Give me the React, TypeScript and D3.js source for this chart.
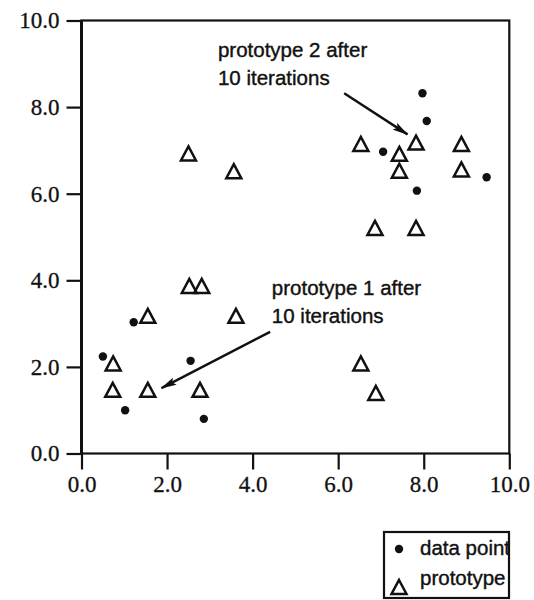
import { useEffect, useRef } from "react";
import * as d3 from "d3";

// data points (filled dots)
const dataX = [0.5, 1.22, 1.02, 2.55, 2.86, 7.97, 8.07, 7.05, 7.84, 9.47];
const dataY = [2.24, 3.03, 1.0, 2.14, 0.8, 8.32, 7.68, 6.97, 6.07, 6.38];

// prototypes (open triangles)
const protoX = [1.55, 0.74, 0.73, 1.55, 2.52, 2.81, 3.61, 2.77, 2.5, 3.56, 6.53, 7.43, 7.43, 7.82, 8.88, 8.88, 6.86, 7.82, 6.53, 6.88];
const protoY = [3.18, 2.08, 1.47, 1.47, 3.87, 3.87, 3.18, 1.47, 6.93, 6.52, 7.15, 6.92, 6.53, 7.18, 7.15, 6.56, 5.21, 5.21, 2.08, 1.4];

const tickValues = [0, 2, 4, 6, 8, 10];

// annotations: text lines, text anchor and arrow (data units)
const noteLines = [
  ["prototype 2 after", "10 iterations"],
  ["prototype 1 after", "10 iterations"],
];
const noteAt = [
  [3.19, 9.16],
  [4.45, 3.66],
];
const arrowFrom = [
  [6.14, 8.32],
  [4.41, 2.81],
];
const arrowTo = [
  [7.62, 7.37],
  [1.87, 1.51],
];

const legendLabels = ["data point", "prototype"];

const W = 534;
const H = 600;

const triangle = "M0,-7L7.5,7L-7.5,7Z";

export default function App() {
  const svgRef = useRef<SVGSVGElement>(null);

  useEffect(() => {
    const margin = { top: 20.5, right: 24.7, bottom: 146.5, left: 81.5 };
    const width = W - margin.left - margin.right;
    const height = H - margin.top - margin.bottom;

    d3.select(svgRef.current).selectAll("*").remove();
    const root = d3.select(svgRef.current);

    root
      .append("defs")
      .append("marker")
      .attr("id", "head")
      .attr("viewBox", "0 0 16 8")
      .attr("refX", 15)
      .attr("refY", 4)
      .attr("markerUnits", "userSpaceOnUse")
      .attr("markerWidth", 16)
      .attr("markerHeight", 8)
      .attr("orient", "auto")
      .append("path")
      .attr("d", "M0,0L16,4L0,8L3,4Z")
      .attr("fill", "#111");

    const svg = root.append("g").attr("transform", `translate(${margin.left},${margin.top})`);

    const x = d3.scaleLinear().domain([0, 10]).range([0, width]);
    const y = d3.scaleLinear().domain([0, 10]).range([height, 0]);

    const serif = "'Liberation Serif', 'Times New Roman', serif";
    const sans = "'Liberation Sans', Arial, sans-serif";

    // Y axis
    const yAxis = svg
      .append("g")
      .call(d3.axisLeft(y).tickValues(tickValues).tickSize(15).tickPadding(7).tickFormat(d3.format(".1f")));
    yAxis.select(".domain").remove();
    yAxis.selectAll("line").attr("stroke", "#111").attr("stroke-width", 2.2);
    yAxis
      .selectAll("text")
      .attr("fill", "#111")
      .attr("stroke", "#111")
      .attr("stroke-width", 0.3)
      .attr("font-family", serif)
      .attr("font-size", 23);

    // X axis
    const xAxis = svg
      .append("g")
      .attr("transform", `translate(0,${height})`)
      .call(d3.axisBottom(x).tickValues(tickValues).tickSize(16).tickPadding(6).tickFormat(d3.format(".1f")));
    xAxis.select(".domain").remove();
    xAxis.selectAll("line").attr("stroke", "#111").attr("stroke-width", 2.2);
    xAxis
      .selectAll("text")
      .attr("fill", "#111")
      .attr("stroke", "#111")
      .attr("stroke-width", 0.3)
      .attr("font-family", serif)
      .attr("font-size", 23);

    // frame
    svg
      .append("rect")
      .attr("x", 0)
      .attr("y", 0)
      .attr("width", width)
      .attr("height", height)
      .attr("fill", "none")
      .attr("stroke", "#111")
      .attr("stroke-width", 2.2);
    svg
      .append("line")
      .attr("x1", 0)
      .attr("x2", 0)
      .attr("y1", 0)
      .attr("y2", height)
      .attr("stroke", "#111")
      .attr("stroke-width", 3);

    // data points
    svg
      .selectAll(".dot")
      .data(dataX.map((d, i) => [d, dataY[i]]))
      .enter()
      .append("circle")
      .attr("class", "dot")
      .attr("cx", (d) => x(d[0]))
      .attr("cy", (d) => y(d[1]))
      .attr("r", 4.2)
      .attr("fill", "#111");

    // prototypes
    svg
      .selectAll(".proto")
      .data(protoX.map((d, i) => [d, protoY[i]]))
      .enter()
      .append("path")
      .attr("class", "proto")
      .attr("d", triangle)
      .attr("transform", (d) => `translate(${x(d[0])},${y(d[1])})`)
      .attr("fill", "none")
      .attr("stroke", "#111")
      .attr("stroke-width", 2.5);

    // arrows
    svg
      .selectAll(".arrow")
      .data(arrowFrom.map((d, i) => [d, arrowTo[i]]))
      .enter()
      .append("line")
      .attr("class", "arrow")
      .attr("x1", (d) => x(d[0][0]))
      .attr("y1", (d) => y(d[0][1]))
      .attr("x2", (d) => x(d[1][0]))
      .attr("y2", (d) => y(d[1][1]))
      .attr("stroke", "#111")
      .attr("stroke-width", 2.4)
      .attr("marker-end", "url(#head)");

    // annotation text
    noteLines.forEach((lines, i) => {
      const t = svg
        .append("text")
        .attr("x", x(noteAt[i][0]))
        .attr("y", y(noteAt[i][1]))
        .attr("font-family", sans)
        .attr("font-size", 20.5)
        .attr("fill", "#111")
        .attr("stroke", "#111")
        .attr("stroke-width", 0.4);
      lines.forEach((line, j) => {
        t.append("tspan")
          .attr("x", x(noteAt[i][0]))
          .attr("dy", j === 0 ? 0 : 28)
          .text(line);
      });
    });

    // legend
    const lg = root.append("g").attr("transform", "translate(384,532)");
    lg.append("clipPath")
      .attr("id", "lgclip")
      .append("rect")
      .attr("width", 124)
      .attr("height", 66);
    lg.append("rect")
      .attr("width", 125)
      .attr("height", 66)
      .attr("fill", "#fff")
      .attr("stroke", "#111")
      .attr("stroke-width", 2.2);
    lg.append("circle").attr("cx", 15).attr("cy", 17).attr("r", 4.2).attr("fill", "#111");
    lg.append("path")
      .attr("d", triangle)
      .attr("transform", "translate(15,55)")
      .attr("fill", "none")
      .attr("stroke", "#111")
      .attr("stroke-width", 2.5);
    lg.selectAll(".lt")
      .data(legendLabels)
      .enter()
      .append("text")
      .attr("class", "lt")
      .attr("clip-path", "url(#lgclip)")
      .attr("x", 36)
      .attr("y", (_d, i) => 23 + i * 30)
      .attr("font-family", sans)
      .attr("font-size", 20.5)
      .attr("fill", "#111")
      .attr("stroke", "#111")
      .attr("stroke-width", 0.4)
      .text((d) => d);
  }, []);

  return (
    <svg
      ref={svgRef}
      width={W}
      height={H}
      style={{ position: "absolute", left: 0, top: 0, background: "#fff" }}
    ></svg>
  );
}
